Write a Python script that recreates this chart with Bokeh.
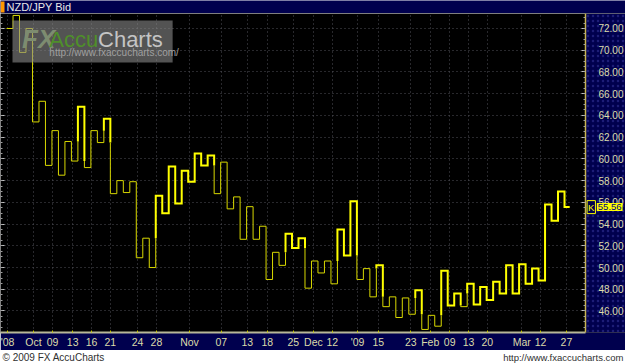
from bokeh.plotting import figure
from bokeh.models import (Range1d, FixedTicker, Label, BoxAnnotation,
                          NumeralTickFormatter, LinearAxis)
from bokeh.layouts import column
from bokeh.embed import file_html
from bokeh.resources import INLINE

# ---------------- data ----------------
title_text = "NZD/JPY Bid"
footer_left = "\u00a9 2009 FX AccuCharts"
footer_right = "http://www.fxaccucharts.com"
watermark_fx = "FX"
watermark_accu = "Accu"
watermark_charts = "Charts"
watermark_url = "http://www.fxaccucharts.com/"

# Kagi turning levels (one per column)
kagi_levels = [72.0, 73.2, 69.8, 72.0,
               63.4, 65.3, 59.4, 62.6, 58.5, 61.6, 59.8, 64.8, 59.2, 62.6,
               61.5, 63.7, 56.8, 58.0, 56.9, 57.9, 50.9, 52.7, 50.0, 56.6,
               55.0, 59.3, 55.9, 58.9, 57.9, 60.5, 59.4, 60.3, 56.8, 59.7,
               55.4, 56.5, 52.6, 55.6, 52.6, 53.8, 48.9, 51.4, 50.2, 53.1,
               51.8, 52.7, 48.1, 50.6, 49.5, 50.6, 48.5, 53.5, 51.1, 56.1,
               48.9, 49.9, 47.3, 50.2, 46.4, 47.3, 45.4, 47.2, 45.7, 47.9,
               44.3, 45.6, 44.6, 49.7, 46.5, 47.6, 46.4, 48.5, 46.6, 48.2,
               47.0, 48.7, 47.6, 50.2, 47.6, 50.3, 48.5, 49.9, 48.8, 55.8,
               54.3, 57.0, 55.56]
last_price = 55.56
marker_tag = "K"

x_tick_pos = [-3.85, 0.15, 3.1, 6.2, 9.1, 12.0, 16.2, 19.1, 24.2, 29.1, 33.1,
              36.2, 40.2, 43.3, 46.2, 50.1, 53.3, 58.3, 61.3, 64.3, 67.2, 70.1,
              75.4, 78.3, 82.3]
x_tick_labels = ["'08", "Oct", "09", "13", "16", "21", "24", "28", "Nov", "07",
                 "13", "18", "25", "Dec", "12", "'09", "15", "23", "Feb", "09",
                 "13", "20", "Mar", "12", "27"]
y_ticks = [46, 48, 50, 52, 54, 56, 58, 60, 62, 64, 66, 68, 70, 72]

# ---------------- style ----------------
FIRST_COL = -4
LAST_EXT = 0.8
X_START, X_AXIS_AT, X_END = -4.93, 85.23, 91.40
Y_START, Y_END = 44.02, 73.38
NAVY = "#00004e"
FONT = "Liberation Sans"
LABEL_COLOR = "#dcdcaa"
THICK_COLOR = "#ffff00"
THIN_COLOR = "#d8d800"
MINOR = [44 + 0.5 * k for k in range(60)]

# ---------------- header ----------------
hdr = figure(width=625, height=13, x_range=Range1d(0, 625), y_range=Range1d(0, 13),
             toolbar_location=None, output_backend="svg",
             x_axis_type=None, y_axis_type=None, min_border=0)
hdr.background_fill_color = NAVY
hdr.border_fill_color = NAVY
hdr.outline_line_color = None
hdr.add_layout(BoxAnnotation(left=0, right=4, bottom=1, top=12,
                             fill_color="#ff9900", fill_alpha=1, line_color=None))
hdr.add_layout(Label(x=6, y=6.5, text=title_text, text_baseline="middle",
                     text_font=FONT, text_font_size="11px", text_color="#e8e8e8"))

# ---------------- main ----------------
p = figure(width=625, height=337,
           x_range=Range1d(X_START, X_END), y_range=Range1d(Y_START, Y_END),
           toolbar_location=None, output_backend="svg", y_axis_location="right",
           min_border_left=0, min_border_right=0, min_border_top=0,
           min_border_bottom=17)
p.background_fill_color = "#000000"
p.border_fill_color = NAVY
p.outline_line_color = None

# price-axis panel (inside the frame, right of the axis line)
p.add_layout(BoxAnnotation(left=X_AXIS_AT, fill_color=NAVY, fill_alpha=1,
                           line_color=None, hatch_pattern=".",
                           hatch_color="#3a3aa0", hatch_alpha=0.5, hatch_scale=5,
                           level="underlay"))

# build kagi runs (thick = yang, thin = yin)
runs = []
thick = False
cur_x = [FIRST_COL]
cur_y = [kagi_levels[0]]
n = len(kagi_levels)
for i in range(n):
    c = FIRST_COL + i
    if i > 0:
        a, b = kagi_levels[i - 1], kagi_levels[i]
        ref = kagi_levels[i - 2] if i >= 2 else None
        flip = ref is not None and ((b > a and not thick and b > ref) or
                                    (b < a and thick and b < ref))
        if flip:
            cur_x.append(c); cur_y.append(ref)
            runs.append((thick, cur_x, cur_y))
            thick = not thick
            cur_x = [c]; cur_y = [ref]
        cur_x.append(c); cur_y.append(b)
    end = c + 1 if i < n - 1 else c + LAST_EXT
    cur_x.append(end); cur_y.append(kagi_levels[i])
runs.append((thick, cur_x, cur_y))

for is_thick, xs, ys in runs:
    p.line(xs, ys, line_color=THICK_COLOR if is_thick else THIN_COLOR,
           line_width=2 if is_thick else 1, line_join="miter")

# price axis
p.yaxis.fixed_location = X_AXIS_AT
p.yaxis.ticker = FixedTicker(ticks=y_ticks, minor_ticks=MINOR)
p.yaxis.formatter = NumeralTickFormatter(format="0.00")
p.yaxis.axis_line_color = "#c8b450"
p.yaxis.axis_line_width = 1.5
p.yaxis.major_tick_in = 4
p.yaxis.major_tick_out = 0
p.yaxis.minor_tick_in = 2
p.yaxis.minor_tick_out = 0
p.yaxis.major_tick_line_color = "#c0c0c0"
p.yaxis.minor_tick_line_color = "#a0a0a0"
p.yaxis.major_label_standoff = 13
p.yaxis.major_label_text_font = FONT
p.yaxis.major_label_text_font_size = "10px"
p.yaxis.major_label_text_color = LABEL_COLOR

# tick dashes along the left edge (no labels)
left_ticks = LinearAxis(fixed_location=X_START,
                        ticker=FixedTicker(ticks=y_ticks, minor_ticks=MINOR),
                        axis_line_color=None, major_tick_in=4, major_tick_out=0,
                        minor_tick_in=2, minor_tick_out=0,
                        major_tick_line_color="#c0c0c0",
                        minor_tick_line_color="#a0a0a0",
                        major_label_text_color=None)
p.add_layout(left_ticks, "left")

# date axis
p.xaxis.ticker = FixedTicker(ticks=x_tick_pos)
p.xaxis.bounds = (X_START, X_AXIS_AT)
p.xaxis.major_label_overrides = {pos: lab for pos, lab in zip(x_tick_pos, x_tick_labels)}
p.xaxis.axis_line_color = "#b8b898"
p.xaxis.axis_line_width = 2
p.xaxis.major_tick_in = 2
p.xaxis.major_tick_out = 0
p.xaxis.minor_tick_line_color = None
p.xaxis.major_tick_line_color = "#c8c800"
p.xaxis.major_label_standoff = 3
p.xaxis.major_label_text_font = FONT
p.xaxis.major_label_text_font_size = "10.5px"
p.xaxis.major_label_text_color = LABEL_COLOR

p.xgrid.grid_line_color = "#505058"
p.ygrid.grid_line_color = "#505058"
p.xgrid.grid_line_dash = "1 3"
p.ygrid.grid_line_dash = "1 3"
p.xgrid.bounds = (X_START, X_AXIS_AT)
p.ygrid.bounds = (Y_START, Y_END)

# watermark
p.add_layout(BoxAnnotation(left=-3.08, right=21.6, bottom=68.88, top=72.73,
                           fill_color="#8a8a8a", fill_alpha=0.6, line_color=None))
p.add_layout(Label(x=-1.6, y=71.0, text=watermark_fx, text_font=FONT,
                   text_font_size="26px", text_font_style="bold italic",
                   text_color="#7d8c70", text_baseline="alphabetic"))
p.add_layout(Label(x=2.6, y=71.0, text=watermark_accu, text_font=FONT,
                   text_font_size="22px", text_color="#4f8f2a",
                   text_baseline="alphabetic"))
p.add_layout(Label(x=10.1, y=71.0, text=watermark_charts, text_font=FONT,
                   text_font_size="22px", text_color="#c4c4c4",
                   text_baseline="alphabetic"))
p.add_layout(Label(x=2.6, y=69.75, text=watermark_url, text_font=FONT,
                   text_font_size="10px", text_color="#a0a0a0",
                   text_baseline="alphabetic"))

# last price marker on the price axis
p.add_layout(Label(x=X_AXIS_AT + 0.25, y=last_price, text=marker_tag,
                   text_font=FONT, text_font_size="9.5px", text_color="#ffff00",
                   text_baseline="middle", background_fill_color=NAVY,
                   border_line_color="#ffff00", padding=1))
p.add_layout(Label(x=X_AXIS_AT + 1.75, y=last_price, text="%.2f" % last_price,
                   text_font=FONT, text_font_size="9.5px", text_color="#000080",
                   text_baseline="middle", background_fill_color="#ffff00",
                   padding=1))

# ---------------- footer ----------------
ftr = figure(width=625, height=13, x_range=Range1d(0, 625), y_range=Range1d(0, 13),
             toolbar_location=None, output_backend="svg",
             x_axis_type=None, y_axis_type=None, min_border=0)
ftr.background_fill_color = "#ffffff"
ftr.border_fill_color = "#ffffff"
ftr.outline_line_color = None
ftr.add_layout(Label(x=2, y=6, text=footer_left, text_baseline="middle",
                     text_font=FONT, text_font_size="10px", text_color="#303030"))
ftr.add_layout(Label(x=623, y=6, text=footer_right, text_baseline="middle",
                     text_align="right", text_font=FONT, text_font_size="9.5px",
                     text_color="#303030"))

layout = column(hdr, p, ftr, spacing=0)
open("out.html", "w").write(file_html(layout, INLINE))
